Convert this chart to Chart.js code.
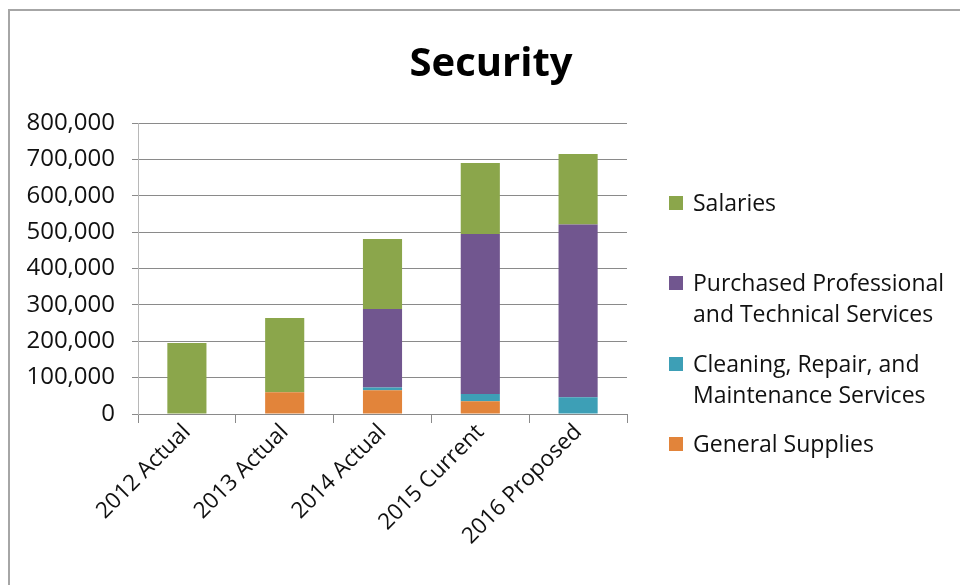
<!DOCTYPE html>
<html><head><meta charset="utf-8">
<script src="https://cdn.jsdelivr.net/npm/chart.js@4/dist/chart.umd.min.js"></script>
<style>
html,body{margin:0;padding:0;background:#fff;}
#wrap{position:relative;width:960px;height:585px;overflow:hidden;background:#fff;}
#frame{position:absolute;left:8px;top:9px;width:1000px;height:700px;border-left:2px solid #a6a6a6;border-top:2px solid #a6a6a6;}
#c{position:absolute;left:0;top:0;}
#title{position:absolute;left:11px;top:41px;width:960px;text-align:center;font-family:"Open Sans";font-weight:bold;font-size:40px;line-height:40px;color:#000;}
#legend{position:absolute;left:669px;top:0;font-family:"Open Sans";font-size:23px;color:#111;}
.item{position:absolute;left:0;white-space:nowrap;line-height:31px;}
.sw{position:absolute;left:0;top:9px;width:14px;height:14px;}
.txt{position:absolute;left:24px;top:0;}
</style></head>
<body>
<div id="wrap">
<div id="frame"></div>
<canvas id="c" width="960" height="585"></canvas>
<div id="title">Security</div>
<div id="legend"></div>
</div>
<script>
const categories = ['2012 Actual','2013 Actual','2014 Actual','2015 Current','2016 Proposed'];
const generalSupplies   = [0, 60000, 65000, 35000, 0];
const cleaningRepair    = [0, 0, 8000, 20000, 46000];
const purchasedServices = [0, 0, 216000, 440000, 475000];
const salaries          = [195000, 204000, 192000, 195000, 194000];
const seriesNames = ['General Supplies', 'Cleaning, Repair, and Maintenance Services', 'Purchased Professional and Technical Services', 'Salaries'];
const legendLines = [['General Supplies'], ['Cleaning, Repair, and', 'Maintenance Services'], ['Purchased Professional', 'and Technical Services'], ['Salaries']];
const seriesColors = ['#e2843a', '#3d9fb6', '#71568f', '#8ba64b'];
const yMin = 0, yMax = 800000, yStep = 100000;

const seriesData = [generalSupplies, cleaningRepair, purchasedServices, salaries];
const datasets = seriesData.map((d, i) => ({
  label: seriesNames[i], data: d, backgroundColor: seriesColors[i], borderWidth: 0,
  barPercentage: 0.4, categoryPercentage: 1.0
}));

new Chart(document.getElementById('c'), {
  type: 'bar',
  data: { labels: categories, datasets },
  options: {
    responsive: false, animation: false, devicePixelRatio: 1,
    layout: { padding: { left: 27, right: 333, top: 123, bottom: 0 } },
    plugins: { legend: { display: false }, title: { display: false }, tooltip: { enabled: false } },
    scales: {
      x: {
        stacked: true,
        grid: { display: true, drawOnChartArea: false, drawTicks: true, tickLength: 9, color: '#8a8a8a', offset: true },
        border: { display: true, color: '#8a8a8a', width: 1 },
        ticks: { maxRotation: 45, minRotation: 45, font: { family: 'Open Sans', size: 22.5 }, color: '#111', padding: -4 },
        afterFit: s => { s.height = 171; }
      },
      y: {
        stacked: true, min: yMin, max: yMax,
        grid: { color: '#8a8a8a', lineWidth: 1, tickLength: 6 },
        border: { display: true, color: '#b8b8b8', width: 1 },
        ticks: { stepSize: yStep, font: { family: 'Open Sans', size: 24 }, color: '#111', padding: 17,
          callback: v => v.toLocaleString('en-US') },
        afterFit: s => { s.width = 111; }
      }
    }
  }
});

const legendTops = [187, 267, 348, 428];
const lg = document.getElementById('legend');
for (let k = 0; k < 4; k++) {
  const i = 3 - k;
  const it = document.createElement('div');
  it.className = 'item';
  it.style.top = legendTops[k] + 'px';
  const sw = document.createElement('div'); sw.className = 'sw'; sw.style.background = seriesColors[i];
  const tx = document.createElement('div'); tx.className = 'txt'; tx.innerHTML = legendLines[i].join('<br>');
  it.appendChild(sw); it.appendChild(tx); lg.appendChild(it);
}
</script>
</body></html>
